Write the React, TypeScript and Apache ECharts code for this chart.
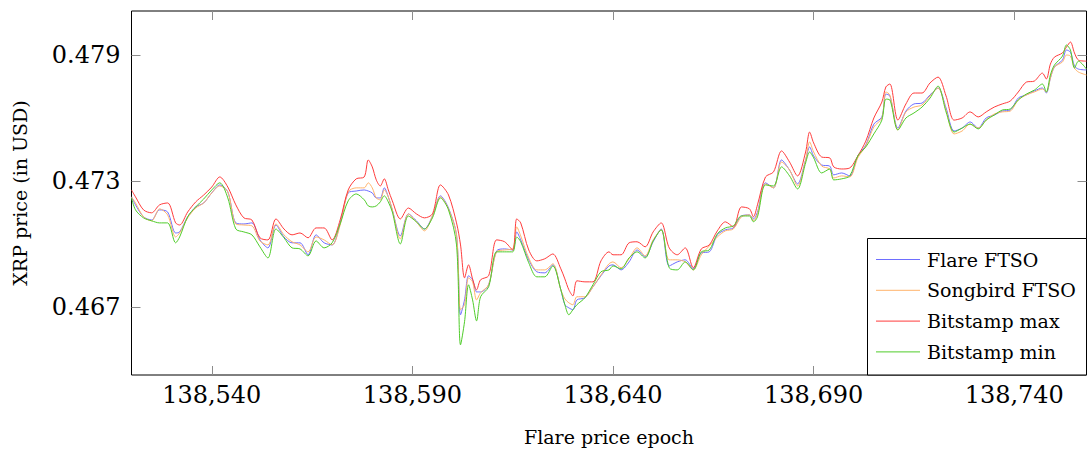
import React, { useEffect, useRef } from "react";
import * as echarts from "echarts";

const epochs = [
  138520, 138521, 138523, 138525, 138527, 138529, 138531, 138532, 138534, 138536,
  138538, 138540, 138542, 138544, 138546, 138548, 138550, 138552, 138554, 138556,
  138558, 138560, 138562, 138564, 138566, 138568, 138570, 138572, 138574, 138576,
  138578, 138579, 138580, 138581, 138582, 138583, 138584, 138585, 138587, 138589,
  138591, 138593, 138595, 138597, 138599, 138601, 138602, 138603, 138604, 138605,
  138606, 138607, 138609, 138611, 138613, 138615, 138616, 138617, 138619, 138621,
  138623, 138625, 138627, 138628, 138629, 138630, 138631, 138633, 138635, 138637,
  138639, 138640, 138642, 138644, 138646, 138648, 138650, 138652, 138654, 138656,
  138658, 138660, 138662, 138664, 138666, 138668, 138670, 138672, 138674, 138675,
  138676, 138678, 138680, 138682, 138684, 138686, 138688, 138689, 138690, 138692,
  138694, 138695, 138697, 138699, 138701, 138703, 138705, 138707, 138708, 138709,
  138711, 138713, 138715, 138717, 138719, 138721, 138723, 138725, 138727, 138729,
  138731, 138733, 138735, 138737, 138739, 138741, 138743, 138745, 138747, 138748,
  138749, 138750, 138752, 138753, 138754, 138755, 138756, 138758,
];

const flareFtso = [
  0.47224, 0.47186, 0.47129, 0.47114, 0.47162, 0.47152, 0.47052, 0.47057, 0.47129, 0.47176,
  0.47195, 0.47243, 0.47281, 0.47248, 0.47100, 0.47095, 0.47100, 0.47019, 0.46981, 0.47090,
  0.47033, 0.47005, 0.47005, 0.46948, 0.47043, 0.47005, 0.46995, 0.47100, 0.47243, 0.47252,
  0.47257, 0.47252, 0.47243, 0.47219, 0.47219, 0.47267, 0.47224, 0.47162, 0.47038, 0.47143,
  0.47110, 0.47071, 0.47133, 0.47229, 0.47171, 0.47043, 0.46662, 0.46733, 0.46848, 0.46829,
  0.46771, 0.46771, 0.46805, 0.46967, 0.46976, 0.46971, 0.47057, 0.47019, 0.46924, 0.46867,
  0.46862, 0.46900, 0.46781, 0.46710, 0.46695, 0.46686, 0.46733, 0.46743, 0.46795, 0.46848,
  0.46895, 0.46900, 0.46876, 0.46914, 0.46971, 0.46938, 0.47010, 0.47071, 0.46895, 0.46914,
  0.46924, 0.46881, 0.46957, 0.46962, 0.47043, 0.47067, 0.47076, 0.47133, 0.47138, 0.47119,
  0.47152, 0.47291, 0.47267, 0.47400, 0.47352, 0.47286, 0.47400, 0.47462, 0.47419, 0.47376,
  0.47371, 0.47329, 0.47338, 0.47324, 0.47419, 0.47471, 0.47571, 0.47605, 0.47714, 0.47705,
  0.47552, 0.47633, 0.47667, 0.47671, 0.47710, 0.47743, 0.47648, 0.47538, 0.47552, 0.47581,
  0.47552, 0.47600, 0.47614, 0.47633, 0.47638, 0.47695, 0.47710, 0.47729, 0.47743, 0.47719,
  0.47790, 0.47843, 0.47876, 0.47924, 0.47914, 0.47848, 0.47833, 0.47829,
];

const songbirdFtso = [
  0.47224, 0.47195, 0.47129, 0.47110, 0.47167, 0.47138, 0.47033, 0.47052, 0.47124, 0.47171,
  0.47195, 0.47243, 0.47276, 0.47248, 0.47095, 0.47090, 0.47086, 0.47014, 0.46995, 0.47095,
  0.47043, 0.47010, 0.46995, 0.46962, 0.47033, 0.47019, 0.46995, 0.47090, 0.47248, 0.47267,
  0.47267, 0.47291, 0.47267, 0.47219, 0.47210, 0.47257, 0.47224, 0.47162, 0.47024, 0.47143,
  0.47105, 0.47062, 0.47133, 0.47224, 0.47167, 0.47043, 0.46686, 0.46710, 0.46838, 0.46819,
  0.46733, 0.46767, 0.46805, 0.46962, 0.46971, 0.46976, 0.47081, 0.47038, 0.46933, 0.46876,
  0.46876, 0.46905, 0.46781, 0.46738, 0.46719, 0.46710, 0.46748, 0.46748, 0.46795, 0.46852,
  0.46905, 0.46914, 0.46886, 0.46929, 0.46981, 0.46943, 0.47019, 0.47067, 0.46924, 0.46924,
  0.46914, 0.46876, 0.46948, 0.46990, 0.47033, 0.47062, 0.47071, 0.47129, 0.47138, 0.47110,
  0.47143, 0.47286, 0.47267, 0.47390, 0.47352, 0.47276, 0.47400, 0.47486, 0.47438, 0.47371,
  0.47357, 0.47314, 0.47324, 0.47319, 0.47410, 0.47467, 0.47557, 0.47600, 0.47724, 0.47710,
  0.47543, 0.47629, 0.47652, 0.47662, 0.47705, 0.47743, 0.47638, 0.47524, 0.47538, 0.47571,
  0.47552, 0.47590, 0.47619, 0.47629, 0.47633, 0.47686, 0.47710, 0.47724, 0.47738, 0.47724,
  0.47790, 0.47843, 0.47867, 0.47900, 0.47895, 0.47838, 0.47819, 0.47805,
];

const bitstampMax = [
  0.47257, 0.47224, 0.47162, 0.47148, 0.47186, 0.47195, 0.47100, 0.47090, 0.47152, 0.47200,
  0.47233, 0.47271, 0.47319, 0.47271, 0.47186, 0.47124, 0.47114, 0.47029, 0.47019, 0.47119,
  0.47071, 0.47043, 0.47052, 0.47029, 0.47076, 0.47076, 0.47019, 0.47114, 0.47257, 0.47310,
  0.47319, 0.47400, 0.47367, 0.47305, 0.47276, 0.47310, 0.47257, 0.47205, 0.47119, 0.47171,
  0.47143, 0.47124, 0.47143, 0.47281, 0.47233, 0.47100, 0.46995, 0.46838, 0.46900, 0.46833,
  0.46781, 0.46829, 0.46848, 0.47019, 0.47010, 0.46971, 0.47119, 0.47100, 0.46971, 0.46919,
  0.46929, 0.46952, 0.46881, 0.46833, 0.46781, 0.46752, 0.46824, 0.46819, 0.46819, 0.46919,
  0.46962, 0.46948, 0.46948, 0.47005, 0.47010, 0.46986, 0.47057, 0.47100, 0.46981, 0.46948,
  0.46981, 0.46886, 0.46976, 0.46995, 0.47062, 0.47105, 0.47081, 0.47176, 0.47167, 0.47129,
  0.47186, 0.47319, 0.47343, 0.47443, 0.47390, 0.47324, 0.47438, 0.47533, 0.47481, 0.47414,
  0.47410, 0.47367, 0.47357, 0.47362, 0.47419, 0.47490, 0.47600, 0.47676, 0.47748, 0.47762,
  0.47590, 0.47667, 0.47719, 0.47719, 0.47767, 0.47795, 0.47705, 0.47590, 0.47600, 0.47629,
  0.47605, 0.47629, 0.47652, 0.47667, 0.47681, 0.47724, 0.47771, 0.47776, 0.47814, 0.47786,
  0.47857, 0.47890, 0.47910, 0.47938, 0.47962, 0.47910, 0.47876, 0.47871,
];

const bitstampMin = [
  0.47219, 0.47162, 0.47124, 0.47110, 0.47100, 0.47100, 0.47005, 0.47033, 0.47129, 0.47176,
  0.47214, 0.47257, 0.47291, 0.47219, 0.47071, 0.47057, 0.47043, 0.46986, 0.46933, 0.47071,
  0.47029, 0.46981, 0.46976, 0.46943, 0.47014, 0.46981, 0.47005, 0.47095, 0.47205, 0.47238,
  0.47210, 0.47181, 0.47176, 0.47181, 0.47200, 0.47229, 0.47200, 0.47152, 0.47000, 0.47133,
  0.47105, 0.47071, 0.47124, 0.47219, 0.47162, 0.46995, 0.46519, 0.46629, 0.46805, 0.46733,
  0.46633, 0.46748, 0.46795, 0.46962, 0.46962, 0.46962, 0.47033, 0.47010, 0.46910, 0.46843,
  0.46843, 0.46895, 0.46781, 0.46710, 0.46662, 0.46686, 0.46710, 0.46743, 0.46805, 0.46867,
  0.46876, 0.46895, 0.46881, 0.46933, 0.46962, 0.46933, 0.47014, 0.47067, 0.46886, 0.46876,
  0.46914, 0.46876, 0.46962, 0.46971, 0.47048, 0.47076, 0.47086, 0.47133, 0.47133, 0.47105,
  0.47129, 0.47281, 0.47276, 0.47367, 0.47324, 0.47262, 0.47386, 0.47438, 0.47410, 0.47338,
  0.47357, 0.47305, 0.47310, 0.47324, 0.47419, 0.47462, 0.47524, 0.47590, 0.47690, 0.47686,
  0.47543, 0.47600, 0.47624, 0.47652, 0.47695, 0.47752, 0.47629, 0.47533, 0.47552, 0.47571,
  0.47548, 0.47590, 0.47614, 0.47638, 0.47643, 0.47686, 0.47714, 0.47733, 0.47762, 0.47724,
  0.47805, 0.47852, 0.47895, 0.47948, 0.47924, 0.47838, 0.47871, 0.47833,
];

const seriesNames = ["Flare FTSO", "Songbird FTSO", "Bitstamp max", "Bitstamp min"];
const seriesColors = ["#6e6eff", "#ffb36b", "#ff3c3c", "#4fcc2a"];
const xTickValues = [138540, 138590, 138640, 138690, 138740];
const xTickLabels = ["138,540", "138,590", "138,640", "138,690", "138,740"];
const yTickValues = [0.467, 0.473, 0.479];
const yTickLabels = ["0.467", "0.473", "0.479"];

const FONT = '"DejaVu Serif", "Liberation Serif", serif';

export default function App() {
  const ref = useRef<HTMLDivElement>(null);

  useEffect(() => {
    if (!ref.current) return;
    const chart = echarts.init(ref.current, undefined, { renderer: "svg" });
    const allSeries = [flareFtso, songbirdFtso, bitstampMax, bitstampMin];

    const xMin = epochs[0];
    const xMax = epochs[epochs.length - 1];
    const tickStyle = { show: true, inside: true, length: 9, lineStyle: { color: "#8c8c8c", width: 1 } };

    const legendLeft = 867.5;
    const legendTop = 238.5;
    const rowStart = 259.5;
    const rowGap = 30.8;

    const legendGraphics: any[] = [
      {
        type: "rect",
        shape: { x: legendLeft, y: legendTop, width: 1086.5 - legendLeft, height: 375 - legendTop },
        style: { fill: "#fff", stroke: "#000", lineWidth: 1 },
        z: 100,
      },
    ];
    seriesNames.forEach((name, i) => {
      const yy = rowStart + i * rowGap;
      legendGraphics.push({
        type: "line",
        shape: { x1: 876, y1: yy, x2: 920, y2: yy },
        style: { stroke: seriesColors[i], lineWidth: 1 },
        z: 101,
      });
      legendGraphics.push({
        type: "text",
        x: 927,
        y: yy,
        style: {
          text: name,
          fill: "#000",
          font: `19px ${FONT}`,
          align: "left",
          verticalAlign: "middle",
        },
        z: 101,
      });
    });

    chart.setOption({
      animation: false,
      backgroundColor: "#fff",
      grid: {
        left: 131.5,
        right: 0.5,
        top: 11,
        bottom: 76,
        show: true,
        borderColor: "#000",
        borderWidth: 1,
        containLabel: false,
      },
      xAxis: [
        {
          type: "value",
          min: xMin,
          max: xMax,
          position: "bottom",
          axisLine: { show: false },
          splitLine: { show: false },
          axisTick: { ...tickStyle, customValues: xTickValues },
          axisLabel: {
            customValues: xTickValues,
            formatter: (v: number) => xTickLabels[xTickValues.indexOf(v)] ?? "",
            color: "#000",
            fontFamily: FONT,
            fontSize: 24,
            margin: 8,
          },
        },
        {
          type: "value",
          min: xMin,
          max: xMax,
          position: "top",
          axisLine: { show: false },
          splitLine: { show: false },
          axisTick: { ...tickStyle, customValues: xTickValues },
          axisLabel: { show: false },
        },
      ],
      yAxis: [
        {
          type: "value",
          min: 0.46375,
          max: 0.4811,
          position: "left",
          axisLine: { show: false },
          splitLine: { show: false },
          axisTick: { ...tickStyle, customValues: yTickValues },
          axisLabel: {
            customValues: yTickValues,
            formatter: (v: number) => {
              const idx = yTickValues.findIndex((t) => Math.abs(t - v) < 1e-7);
              return idx >= 0 ? yTickLabels[idx] : "";
            },
            color: "#000",
            fontFamily: FONT,
            fontSize: 24,
            margin: 11,
          },
        },
        {
          type: "value",
          min: 0.46375,
          max: 0.4811,
          position: "right",
          axisLine: { show: false },
          splitLine: { show: false },
          axisTick: { ...tickStyle, customValues: yTickValues },
          axisLabel: { show: false },
        },
      ],
      graphic: [
        {
          type: "text",
          x: 20,
          y: 193,
          rotation: Math.PI / 2,
          style: {
            text: "XRP price (in USD)",
            fill: "#000",
            font: `19px ${FONT}`,
            align: "center",
            verticalAlign: "middle",
          },
        },
        {
          type: "text",
          x: 609,
          y: 437,
          style: {
            text: "Flare price epoch",
            fill: "#000",
            font: `19px ${FONT}`,
            align: "center",
            verticalAlign: "middle",
          },
        },
        ...legendGraphics,
      ],
      series: allSeries.map((arr, i) => ({
        name: seriesNames[i],
        type: "line",
        data: epochs.map((e, j) => [e, arr[j]]),
        showSymbol: false,
        symbol: "none",
        smooth: 0.3,
        clip: true,
        lineStyle: { color: seriesColors[i], width: 1 },
        itemStyle: { color: seriesColors[i] },
        z: 2 + i,
      })),
    });

    return () => chart.dispose();
  }, []);

  return (
    <div
      ref={ref}
      style={{ position: "fixed", left: 0, top: 0, width: "1087px", height: "451px", background: "#fff" }}
    />
  );
}
